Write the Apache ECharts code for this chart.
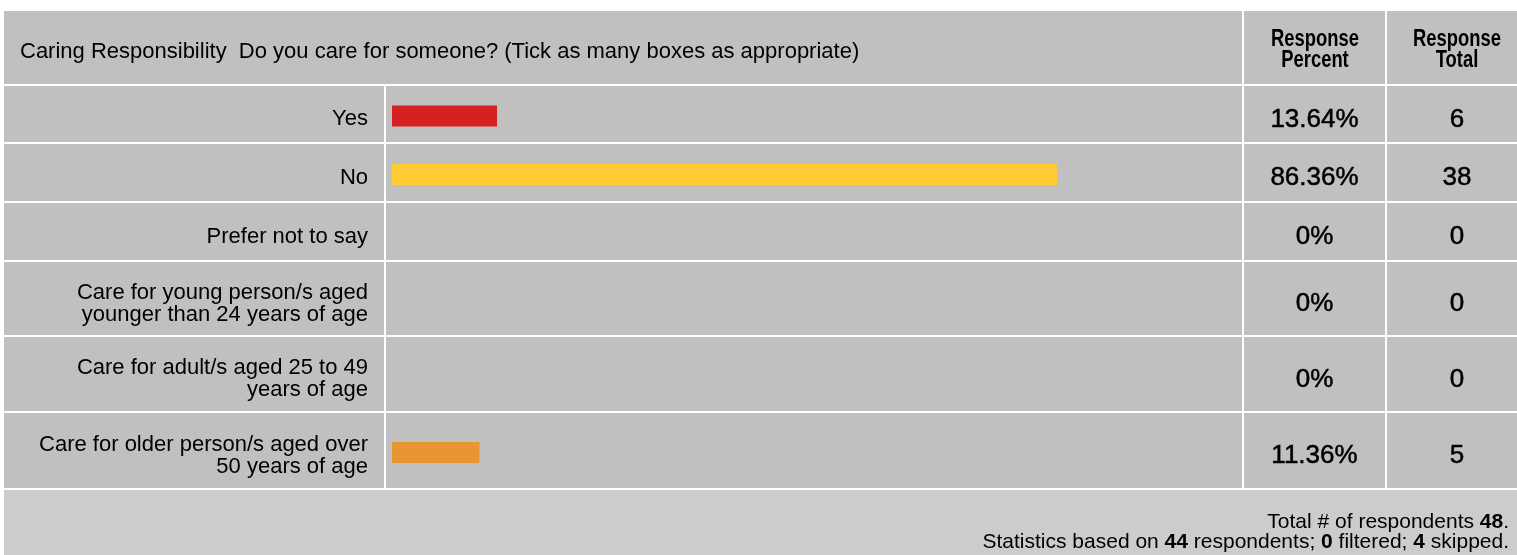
<!DOCTYPE html>
<html>
<head>
<meta charset="utf-8">
<script src="https://cdn.jsdelivr.net/npm/echarts@6/dist/echarts.min.js"></script>
<style>
html,body{margin:0;padding:0;background:#fff;}
#chart{width:1517px;height:555px;}
</style>
</head>
<body>
<div id="chart"></div>
<script>
// ---- data ----
const questionTitle = 'Caring Responsibility  Do you care for someone? (Tick as many boxes as appropriate)';
const columnHeaders = ['Response\nPercent', 'Response\nTotal'];
const categories = [
  'Yes',
  'No',
  'Prefer not to say',
  'Care for young person/s aged\nyounger than 24 years of age',
  'Care for adult/s aged 25 to 49\nyears of age',
  'Care for older person/s aged over\n50 years of age'
];
const percents = [13.64, 86.36, 0, 0, 0, 11.36];
const totals = [6, 38, 0, 0, 0, 5];
const totalRespondents = 48;
const basedOn = 44;
const filtered = 0;
const skipped = 4;

// ---- styles / layout ----
const barColors = ['#D42020', '#FFCC33', '#D42020', '#D42020', '#D42020', '#E89634'];
const FONT = '"Liberation Sans", Arial, sans-serif';
const CELL = '#C0C0C0';
const FOOT = '#CCCCCC';
const rowTops = [86, 144, 203, 262, 337, 413];
const rowBottoms = [142, 201, 260, 335, 411, 488];
const colX = [4, 386, 1244, 1387];
const colR = [384, 1242, 1385, 1517];
const barLeft = 392, barAreaWidth = 770;

const graphics = [];
function rect(x, y, w, h, fill) {
  graphics.push({type: 'rect', z: -10, silent: true, shape: {x: x, y: y, width: w, height: h}, style: {fill: fill}});
}
function text(x, y, str, opt, extra) {
  graphics.push(Object.assign({type: 'text', z: 10, silent: true, x: x, y: y,
    style: Object.assign({text: str, fill: '#000', font: '22px ' + FONT, textAlign: 'left', textVerticalAlign: 'middle'}, opt || {})}, extra || {}));
}

// header
rect(4, 11, 1238, 73, CELL);
rect(1244, 11, 141, 73, CELL);
rect(1387, 11, 130, 73, CELL);
text(20, 52, questionTitle, {font: '22px ' + FONT});
text(1315, 50, columnHeaders[0], {font: 'bold 23px ' + FONT, textAlign: 'center', lineHeight: 20.5}, {scaleX: 0.8});
text(1457, 50, columnHeaders[1], {font: 'bold 23px ' + FONT, textAlign: 'center', lineHeight: 20.5}, {scaleX: 0.8});

// body cells + labels + value texts
const grids = [], xAxes = [], yAxes = [], series = [];
categories.forEach(function (cat, i) {
  const t = rowTops[i], b = rowBottoms[i], h = b - t, c = (t + b) / 2;
  for (let k = 0; k < 4; k++) rect(colX[k], t, colR[k] - colX[k], h, CELL);
  text(368, c + 5, cat, {font: '22px ' + FONT, textAlign: 'right', lineHeight: 22});
  const p = percents[i];
  text(1314.5, c + 5.5, (p === 0 ? '0' : p.toFixed(2)) + '%',
    {font: '26px ' + FONT, textAlign: 'center', stroke: '#000', lineWidth: 0.5});
  text(1457, c + 5.5, String(totals[i]),
    {font: '26px ' + FONT, textAlign: 'center', stroke: '#000', lineWidth: 0.5});

  grids.push({left: barLeft, width: barAreaWidth, top: t + 2, height: h, containLabel: false});
  xAxes.push({gridIndex: i, type: 'value', min: 0, max: 100, show: false});
  yAxes.push({gridIndex: i, type: 'category', data: [cat],
    axisLine: {show: false}, axisTick: {show: false}, splitLine: {show: false}, axisLabel: {show: false}});
  series.push({type: 'bar', xAxisIndex: i, yAxisIndex: i, data: [p], barWidth: 21, silent: true,
    itemStyle: {color: barColors[i]}, animation: false});
});

// footer
rect(4, 490, 1513, 65, FOOT);
graphics.push({type: 'text', z: 10, silent: true, x: 1509, y: 522,
  style: {text: 'Total # of respondents {b|' + totalRespondents + '}.', font: '21px ' + FONT, fill: '#000',
    textAlign: 'right', textVerticalAlign: 'middle',
    rich: {b: {fontWeight: 'bold', fontSize: 21, fontFamily: FONT, fill: '#000'}}}});
graphics.push({type: 'text', z: 10, silent: true, x: 1509, y: 542,
  style: {text: 'Statistics based on {b|' + basedOn + '} respondents; {b|' + filtered + '} filtered; {b|' + skipped + '} skipped.',
    font: '21px ' + FONT, fill: '#000', textAlign: 'right', textVerticalAlign: 'middle',
    rich: {b: {fontWeight: 'bold', fontSize: 21, fontFamily: FONT, fill: '#000'}}}});

const chart = echarts.init(document.getElementById('chart'), null, {renderer: 'canvas'});
chart.setOption({
  backgroundColor: '#ffffff',
  animation: false,
  textStyle: {fontFamily: FONT},
  grid: grids,
  xAxis: xAxes,
  yAxis: yAxes,
  series: series,
  graphic: {elements: graphics}
});
</script>
</body>
</html>
